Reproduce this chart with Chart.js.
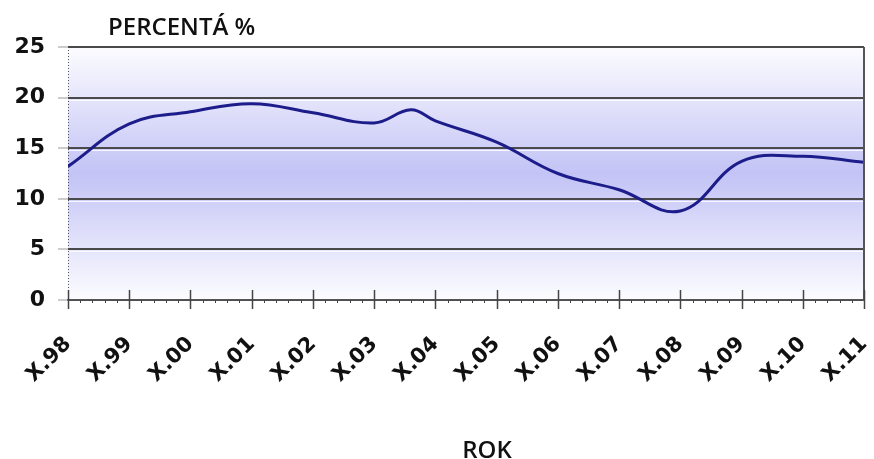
<!DOCTYPE html>
<html>
<head>
<meta charset="utf-8">
<script src="https://cdn.jsdelivr.net/npm/chart.js@4/dist/chart.umd.min.js"></script>
<style>
  html, body { margin: 0; padding: 0; background: #fff; }
  #wrap { width: 874px; height: 459px; }
</style>
</head>
<body>
<div id="wrap"><canvas id="chart" width="874" height="459"></canvas></div>
<script>
// year labels on the x axis (one per major tick)
const years = ['X.98', 'X.99', 'X.00', 'X.01', 'X.02', 'X.03', 'X.04', 'X.05', 'X.06', 'X.07', 'X.08', 'X.09', 'X.10', 'X.11'];
// position of each reading along the year axis (0 = X.98), one extra reading between X.03 and X.04
const xPos = [0, 1, 2, 3, 4, 5, 5.6, 6, 7, 8, 9, 10, 11, 12, 13];
const pct = [13.2, 17.4, 18.6, 19.4, 18.5, 17.5, 18.8, 17.7, 15.6, 12.5, 10.9, 8.8, 13.7, 14.2, 13.6];
const yMin = 0, yMax = 25, yStep = 5;

const titleText = 'PERCENTÁ %';
const xTitleText = 'ROK';

// background gradient, tick marks, borders and the two captions
const decor = {
    id: 'decor',
    beforeDraw(chart) {
        const { ctx, chartArea: a } = chart;
        const g = ctx.createLinearGradient(0, a.top, 0, a.bottom);
        g.addColorStop(0, '#fcfcff');
        g.addColorStop(0.5, '#c3c3f6');
        g.addColorStop(1, '#fcfcff');
        ctx.save();
        ctx.fillStyle = g;
        ctx.fillRect(a.left, a.top, a.right - a.left, a.bottom - a.top);
        ctx.restore();
    },
    beforeDatasetsDraw(chart) {
        // light line under each grid line
        const { ctx, chartArea: a, scales } = chart;
        ctx.save();
        ctx.strokeStyle = 'rgba(255,255,255,0.85)';
        ctx.lineWidth = 1;
        for (let v = yMin + yStep; v < yMax; v += yStep) {
            const y = Math.round(scales.y.getPixelForValue(v)) + 2.5;
            ctx.beginPath();
            ctx.moveTo(a.left + 1, y);
            ctx.lineTo(a.right, y);
            ctx.stroke();
        }
        // dotted left axis
        ctx.strokeStyle = '#555';
        ctx.setLineDash([1, 2]);
        ctx.beginPath();
        ctx.moveTo(Math.round(a.left) + 0.5, a.top);
        ctx.lineTo(Math.round(a.left) + 0.5, a.bottom);
        ctx.stroke();
        ctx.restore();
    },
    afterDraw(chart) {
        const { ctx, chartArea: a, scales } = chart;
        const x = scales.x;
        ctx.save();
        // right border
        ctx.strokeStyle = '#555';
        ctx.lineWidth = 2;
        ctx.beginPath();
        ctx.moveTo(a.right, a.top);
        ctx.lineTo(a.right, a.bottom);
        ctx.stroke();

        // major + minor ticks on the x axis
        ctx.strokeStyle = '#444';
        for (let i = 0; i < years.length; i++) {
            const px = Math.round(x.getPixelForValue(i)) + 0.5;
            ctx.lineWidth = 1.5;
            ctx.beginPath();
            ctx.moveTo(px, a.bottom - 10);
            ctx.lineTo(px, a.bottom + 9);
            ctx.stroke();
            if (i < years.length - 1) {
                ctx.lineWidth = 1;
                for (let k = 1; k < 5; k++) {
                    const mx = Math.round(x.getPixelForValue(i + k / 5)) + 0.5;
                    ctx.beginPath();
                    ctx.moveTo(mx, a.bottom);
                    ctx.lineTo(mx, a.bottom + 3);
                    ctx.stroke();
                }
            }
        }

        // captions
        ctx.fillStyle = '#111';
        ctx.font = '600 24px "Open Sans"';
        ctx.textAlign = 'left';
        ctx.textBaseline = 'alphabetic';
        ctx.fillText(titleText, a.left + 40, 35);
        ctx.textAlign = 'center';
        ctx.fillText(xTitleText, (a.left + a.right) / 2 + 21, 458);
        ctx.restore();
    }
};

const ctx = document.getElementById('chart').getContext('2d');
new Chart(ctx, {
    type: 'line',
    data: {
        datasets: [{
            data: xPos.map((p, i) => ({ x: p, y: pct[i] })),
            borderColor: '#1c1c8a',
            borderWidth: 3,
            pointRadius: 0,
            tension: 0.4,
            fill: false
        }]
    },
    options: {
        responsive: false,
        animation: false,
        layout: { padding: { top: 47, right: 10, left: 0, bottom: 0 } },
        plugins: {
            legend: { display: false },
            tooltip: { enabled: false }
        },
        scales: {
            x: {
                type: 'linear',
                min: 0,
                max: years.length - 1,
                afterFit: (s) => { s.height = 159; s.paddingRight = 0; s.paddingLeft = 0; },
                grid: { display: false, drawTicks: true, tickLength: 30 },
                border: { display: true, color: '#555', width: 1.5 },
                ticks: {
                    stepSize: 1,
                    autoSkip: false,
                    maxRotation: 45,
                    minRotation: 45,
                    padding: 2,
                    color: '#111',
                    font: { family: 'DejaVu Sans', size: 21, weight: 'bold' },
                    callback: (v) => years[v]
                }
            },
            y: {
                min: yMin,
                max: yMax,
                afterFit: (s) => { s.width = 68; },
                grid: { color: '#4a4a4a', lineWidth: 2, tickLength: 10, tickColor: '#999', tickWidth: 1 },
                border: { display: false },
                ticks: {
                    stepSize: yStep,
                    padding: 13,
                    color: '#111',
                    font: { family: 'DejaVu Sans', size: 22, weight: 'bold' }
                }
            }
        }
    },
    plugins: [decor]
});
</script>
</body>
</html>
